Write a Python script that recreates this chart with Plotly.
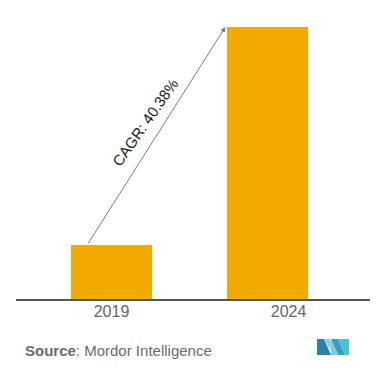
import plotly.graph_objects as go

# ---- data ----
years = ["2019", "2024"]
values = [1.0, 5.04]          # relative market size (no scale shown)
cagr_label = "CAGR: 40.38%"
source_label = "<b>Source</b>: Mordor Intelligence"

# ---- layout constants (pixels, screen coords; page body adds 8px offset) ----
OFF = 8
W, H = 378 - OFF, 378 - OFF
PL, PR, PB = 16, 370, 299      # plot area edges in screen pixels
PT = 13
L, R, T, B = PL - OFF, (W + OFF) - PR, PT - OFF, (H + OFF) - PB
PW, PH = PR - PL, PB - PT
bar_x = [0, 1]
bar_w = 0.52
x_range = [-0.612, 1.657]
y_range = [0, 5.3]
tick_pos = [0, 1.135]

BAR = "#F2A900"

def px2paper(px, py):
    return ((px - PL) / PW, (PB - py) / PH)

fig = go.Figure()
fig.add_trace(go.Bar(
    x=bar_x, y=values, width=bar_w,
    marker=dict(color=BAR, line=dict(width=0)),
    hoverinfo="skip",
))

# CAGR arrow from first bar top to second bar's top-left corner
fig.add_annotation(
    x=bar_x[1] - bar_w / 2 - 0.01, y=values[1],
    ax=bar_x[0] - bar_w * 0.3, ay=values[0],
    xref="x", yref="y", axref="x", ayref="y",
    showarrow=True, arrowhead=2, arrowsize=1, arrowwidth=1,
    arrowcolor="#7a7a7a", text="",
)
fig.add_annotation(
    x=0.215, y=3.27, xref="x", yref="y",
    text=cagr_label, showarrow=False, textangle=-55,
    font=dict(family="Arial, Liberation Sans", size=15, color="#1a1a1a"),
)

# Source
sx, sy = px2paper(23, 350)
fig.add_annotation(
    x=sx, y=sy, xref="paper", yref="paper", xanchor="left", yanchor="middle",
    text=source_label, showarrow=False,
    font=dict(family="Arial, Liberation Sans", size=15, color="#6b6b6b"),
)

# Logo (approximation)
def poly(pts, color):
    d = "M " + " L ".join(f"{px2paper(a, b)[0]:.4f},{px2paper(a, b)[1]:.4f}" for a, b in pts) + " Z"
    fig.add_shape(type="path", path=d, xref="paper", yref="paper",
                  fillcolor=color, line=dict(width=0), layer="above")

poly([(317, 339), (324, 339), (331, 355), (317, 355)], "#2f7fae")
poly([(324, 339), (330, 339), (330, 350)], "#8ad3da")
poly([(331, 339), (338, 339), (345, 355), (338, 355)], "#3a9cc0")
poly([(338, 339), (349, 339), (349, 355), (345, 355)], "#4cc3c9")
poly([(330, 341), (331, 339), (338, 355), (331, 355)], "#7fcfd8")

fig.update_layout(
    width=W, height=H,
    margin=dict(l=L, r=R, t=T, b=B),
    paper_bgcolor="white", plot_bgcolor="white",
    showlegend=False, bargap=0,
    xaxis=dict(
        range=x_range, tickvals=tick_pos, ticktext=years,
        showgrid=False, zeroline=False, showline=True,
        linecolor="#555555", linewidth=1.5, ticks="",
        ticklabelstandoff=-3,
        tickfont=dict(family="Arial, Liberation Sans", size=16, color="#666666"),
        fixedrange=True,
    ),
    yaxis=dict(range=y_range, visible=False, fixedrange=True),
)

fig.write_html("out.html")
